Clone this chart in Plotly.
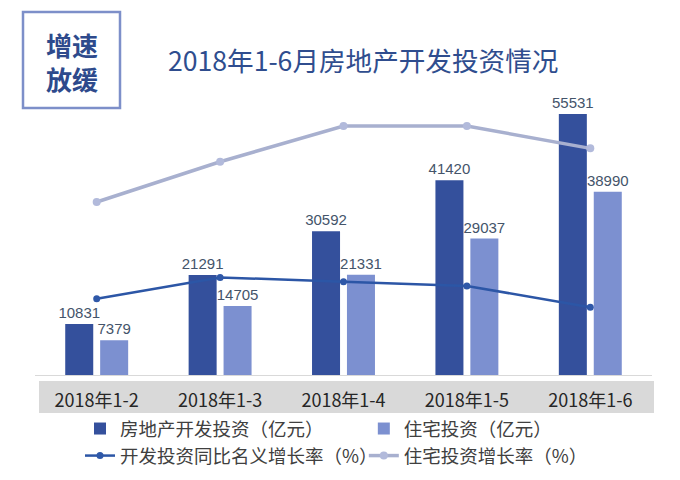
import plotly.graph_objects as go

categories = ["2018年1-2", "2018年1-3", "2018年1-4", "2018年1-5", "2018年1-6"]
dev_invest = [10831, 21291, 30592, 41420, 55531]       # 房地产开发投资（亿元）
res_invest = [7379, 14705, 21331, 29037, 38990]        # 住宅投资（亿元）
dev_growth = [9.9, 10.4, 10.3, 10.2, 9.7]              # 开发投资同比名义增长率（%）
res_growth = [13.0, 13.9, 14.7, 14.7, 14.2]            # 住宅投资增长率（%）

W, H = 680, 480
L, R, T, B = 35, 28, 85, 105
PW, PH = W - L - R, H - T - B

def px(x):
    return (x - L) / PW

def py(y):
    return (H - B - y) / PH

CJK = "Noto Sans CJK SC"
x_idx = list(range(len(categories)))

fig = go.Figure()
fig.add_trace(go.Bar(
    x=x_idx, y=dev_invest, name="房地产开发投资（亿元）",
    marker=dict(color="#34509c", line=dict(width=0)),
    width=0.227, offset=-0.255,
    texttemplate="%{y:.0f}", textposition="outside", constraintext="none",
    textfont=dict(family="Liberation Sans", size=15, color="#44546a"),
    cliponaxis=False,
))
fig.add_trace(go.Bar(
    x=x_idx, y=res_invest, name="住宅投资（亿元）",
    marker=dict(color="#7c90d0", line=dict(width=0)),
    width=0.227, offset=0.028,
    texttemplate="%{y:.0f}", textposition="outside", constraintext="none",
    textfont=dict(family="Liberation Sans", size=15, color="#44546a"),
    cliponaxis=False,
))
fig.add_trace(go.Scatter(
    x=x_idx, y=dev_growth, name="开发投资同比名义增长率（%）", yaxis="y2",
    mode="lines+markers",
    line=dict(color="#2c56a6", width=2.5),
    marker=dict(color="#2f58a8", size=7),
))
fig.add_trace(go.Scatter(
    x=x_idx, y=res_growth, name="住宅投资增长率（%）", yaxis="y3",
    mode="lines+markers",
    line=dict(color="#a8b0cf", width=3.5),
    marker=dict(color="#b2badb", size=8),
))

shapes = [
    dict(type="rect", xref="paper", yref="paper",
         x0=px(39), x1=px(654), y0=py(413), y1=py(381),
         fillcolor="#d9d9d9", line=dict(width=0), layer="below"),
    dict(type="rect", xref="paper", yref="paper",
         x0=px(23), x1=px(120), y0=py(108), y1=py(12),
         fillcolor="rgba(0,0,0,0)", line=dict(color="#7d8fc9", width=2.5)),
]

annotations = [
    dict(text="<b>增速</b><br><b>放缓</b>", xref="paper", yref="paper",
         x=px(71.5), y=py(61),
         showarrow=False, xanchor="center", yanchor="middle", align="center",
         font=dict(family=CJK, size=26, color="#2e4a8c")),
]

fig.update_layout(
    width=W, height=H,
    margin=dict(l=L, r=R, t=T, b=B, autoexpand=False),
    paper_bgcolor="white", plot_bgcolor="white",
    barmode="overlay",
    title=dict(text="2018年1-6月房地产开发投资情况", xref="container", yref="container",
               x=168 / W, xanchor="left", y=1 - 62 / H, yanchor="middle",
               font=dict(family=CJK, size=26.6, color="#2f4d8e")),
    xaxis=dict(tickmode="array", tickvals=x_idx, ticktext=categories,
               range=[-0.5, 4.5], showgrid=False, zeroline=False,
               showline=True, linecolor="#d9d9d9", linewidth=1,
               ticks="", ticklabelstandoff=9, automargin=False,
               tickfont=dict(family=CJK, size=18, color="#262626")),
    yaxis=dict(range=[0, 61700], visible=False, showgrid=False),
    yaxis2=dict(range=[8.105, 14.928], overlaying="y", visible=False, showgrid=False),
    yaxis3=dict(range=[9.130, 15.617], overlaying="y", visible=False, showgrid=False),
    legend=dict(orientation="h", x=px(80), y=py(410), xanchor="left", yanchor="top",
                entrywidth=0.460, entrywidthmode="fraction",
                font=dict(family=CJK, size=18.5, color="#404040"),
                bgcolor="rgba(0,0,0,0)", itemwidth=30),
    shapes=shapes,
    annotations=annotations,
    showlegend=True,
)

fig.write_html("out.html", config={"displayModeBar": False},
               post_script="document.body.style.margin='0';")
